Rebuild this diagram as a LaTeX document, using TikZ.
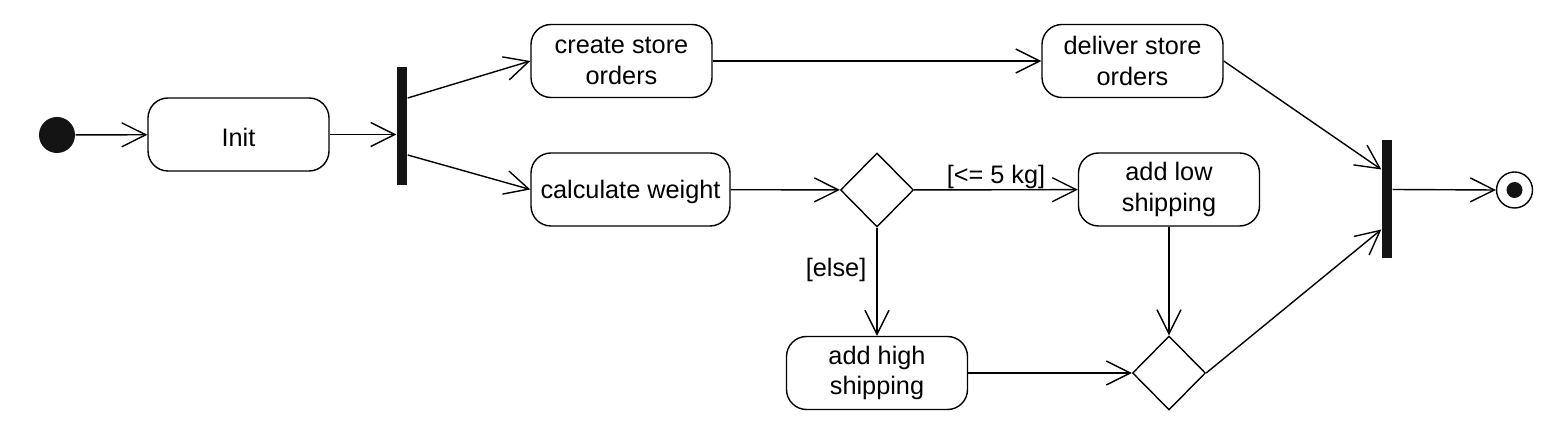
\documentclass[tikz,border=0pt]{standalone}
\usepackage{fontspec}
\setmainfont{Liberation Sans}
\usetikzlibrary{arrows.meta,shapes.geometric}

\begin{document}
\begin{tikzpicture}[x=0.5pt,y=-0.5pt,line width=0.7pt,
flow/.style={-{Straight Barb[length=12pt,width=12pt]}},
action/.style={draw,rounded corners=10pt,minimum width=90.5pt,minimum height=36.5pt,inner sep=0pt,align=center,font=\fontsize{12.65pt}{15.3pt}\selectfont,execute at begin node={\rule{0pt}{12pt}}},
choice/.style={draw,diamond,minimum width=36.5pt,minimum height=37pt,inner sep=0pt},
bar/.style={fill=black!92,minimum width=5pt,minimum height=59pt,inner sep=0pt},
guard/.style={inner sep=0pt,font=\fontsize{12.65pt}{15.3pt}\selectfont}]
\useasboundingbox (0,0) rectangle (1566,442);

\node[circle,fill=black!92,minimum size=18pt,inner sep=0pt] (start) at (57,135) {};
\node[action] (init) at (238.5,134.5) {Init};
\node[action] (create) at (621.5,61) {create store\\orders};
\node[action] (deliver) at (1132.5,61) {deliver store\\orders};
\node[action,minimum width=99.5pt] (calc) at (630.5,189.5) {calculate weight};
\node[action] (low) at (1169,189.5) {add low\\shipping};
\node[action] (high) at (877,373) {add high\\shipping};

\foreach \n/\x/\y in {check/877/190,merge/1169/373} {
\node[choice] (\n) at (\x,\y) {};
}
\foreach \n/\x/\y in {fork/402/126,join/1387/199.5} {
\node[bar] (\n) at (\x,\y) {};
}

\node[draw,circle,minimum size=18pt,inner sep=0pt] (final) at (1514.5,190) {};
\fill[black!92] (final) circle (4pt);

\draw[flow] (start) -- (init);
\draw[flow] (init) -- (init -| fork.west);
\draw[flow] ([yshift=14pt]fork.east) -- (create.west);
\draw[flow] ([yshift=-14.5pt]fork.east) -- (calc.west);
\draw[flow] (create) -- (deliver);
\draw[flow] (calc) -- (check);
\draw[flow] (check) -- node[guard,above]{[<= 5 kg]} (low);
\draw[flow] (check) -- node[guard,left,pos=0.39,xshift=-5pt]{[else]} (high);
\draw[flow] (low) -- (merge);
\draw[flow] (high) -- (merge);
\draw[flow] (merge.east) -- ([yshift=-15pt]join.west);
\draw[flow] (deliver.east) -- ([yshift=15pt]join.west);
\draw[flow] ([yshift=5pt]join.east) -- (final.west);

\end{tikzpicture}
\end{document}
